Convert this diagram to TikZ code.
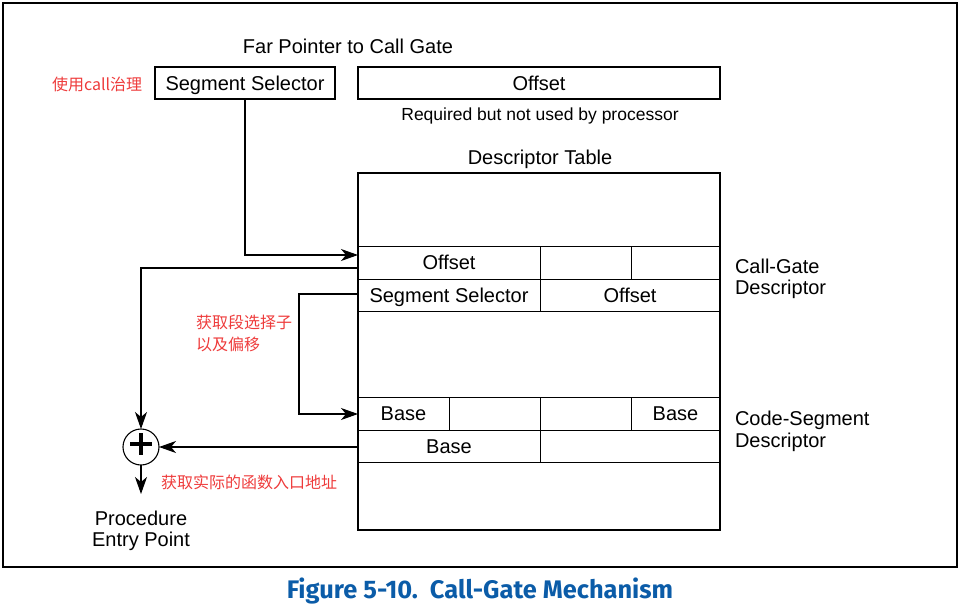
\documentclass[tikz,border=0pt]{standalone}
\usepackage{fontspec}
\setmainfont{Liberation Sans}
\newfontfamily\cjk{Noto Sans CJK SC}
\newfontfamily\capfont{Fira Sans}
\usetikzlibrary{arrows.meta,calc}
\definecolor{redtxt}{HTML}{EE3B3B}
\definecolor{capblue}{HTML}{0B5CA8}
\begin{document}
\begin{tikzpicture}[x=1pt,y=-1pt,
  every node/.style={inner sep=0pt, outer sep=0pt},
  lbl/.style={font=\fontsize{20}{21}\selectfont},
  smalltxt/.style={font=\fontsize{17.5}{20}\selectfont},
  note/.style={font=\cjk\fontsize{16}{22}\selectfont, text=redtxt, align=left},
  cellfont/.style={font=\fontsize{20}{21}\selectfont, text height=14pt, text depth=0pt},
  cell/.style={draw, line width=1pt, rectangle, anchor=north west, cellfont},
  box/.style={draw, line width=2pt, rectangle, anchor=north west, cellfont},
  arr/.style={line width=1.1pt, -{Stealth[length=17pt,width=12pt,inset=5pt]}},
]
\useasboundingbox (0,0) rectangle (964,605);
\node[draw, line width=2pt, minimum width=954pt, minimum height=564pt, anchor=north west] (frame) at (3,3) {};

% top
\node[lbl, anchor=base] (fp) at (348,53) {Far Pointer to Call Gate};
\node[box, minimum width=180pt, minimum height=32pt] (ss) at (155,67) {Segment Selector};
\node[box, minimum width=362pt, minimum height=32pt] (off) at (358,67) {Offset};
\node[smalltxt, anchor=base] (req) at (540,120) {Required but not used by processor};
\node[lbl, anchor=base] (dt) at (540,164) {Descriptor Table};

% table cells
\node[cell, minimum width=182pt, minimum height=33pt] (a1) at (358,246) {Offset};
\node[cell, minimum width=91pt, minimum height=33pt] (a2) at (540,246) {};
\node[cell, minimum width=89pt, minimum height=33pt] (a3) at (631,246) {};
\node[cell, minimum width=182pt, minimum height=32pt] (b1) at (358,279) {Segment Selector};
\node[cell, minimum width=180pt, minimum height=32pt] (b2) at (540,279) {Offset};
\node[cell, minimum width=91pt, minimum height=33pt] (c1) at (358,397) {Base};
\node[cell, minimum width=91pt, minimum height=33pt] (c2) at (449,397) {};
\node[cell, minimum width=91pt, minimum height=33pt] (c3) at (540,397) {};
\node[cell, minimum width=89pt, minimum height=33pt] (c4) at (631,397) {Base};
\node[cell, minimum width=182pt, minimum height=32pt] (d1) at (358,430) {Base};
\node[cell, minimum width=180pt, minimum height=32pt] (d2) at (540,430) {};
\node[box, minimum width=362pt, minimum height=357pt] (tbl) at (358,173) {};

% side labels
\node[lbl, align=left, anchor=west, font=\fontsize{20}{21}\selectfont] (cgd) at (735,279) {Call-Gate\\Descriptor};
\node[lbl, align=left, anchor=west, font=\fontsize{20}{22}\selectfont] (csd) at (735,431) {Code-Segment\\Descriptor};

% adder
\node[circle, draw, line width=1.1pt, minimum size=36pt] (plus) at (141,447) {};
\draw[line width=3.6pt] ($(plus.center)+(-11,-3)$) -- ($(plus.center)+(11,-3)$);
\draw[line width=3.6pt] ($(plus.center)+(0,-14)$) -- ($(plus.center)+(0,8)$);
\node[lbl, align=center, anchor=north] (pep) at (141,511) {Procedure\\Entry Point};

% connectors
\coordinate (inA) at (358,255);
\coordinate (outA) at (358,268);
\coordinate (outB) at (358,294);
\coordinate (inC) at (358,414);
\coordinate (outD) at (358,447);
\draw[arr] (ss.south) |- (inA);
\draw[arr] (outA) -| (plus.north);
\draw[arr] (outB) -- ++(-59,0) |- (inC);
\draw[arr] (outD) -- (plus.east);
\draw[arr, shorten >=17pt] (plus.south) -- (pep.north);

% notes
\node[note, anchor=west] (n1) at (52,84) {使用call治理};
\node[note, anchor=west] (n2) at (196,333) {获取段选择子\\以及偏移};
\node[note, anchor=west] (n3) at (161,482) {获取实际的函数入口地址};

% caption
\node[font=\capfont\bfseries\fontsize{25.4}{28}\selectfont, text=capblue, anchor=base] (cap) at (480,598) {Figure 5-10.\ \ Call-Gate Mechanism};
\end{tikzpicture}
\end{document}
